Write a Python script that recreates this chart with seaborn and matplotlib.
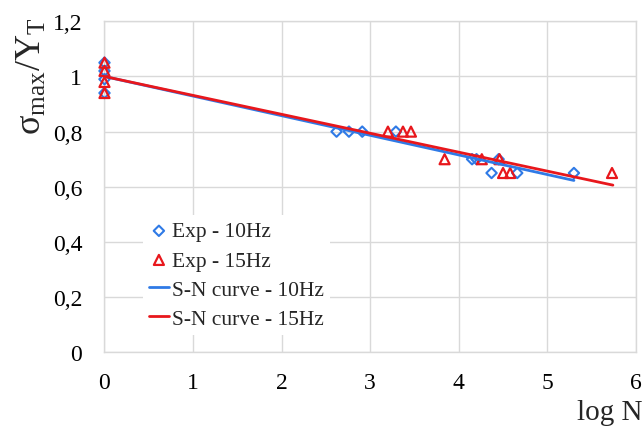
import matplotlib
matplotlib.use("Agg")
import matplotlib.pyplot as plt
import seaborn as sns

# Experimental fatigue points (log N, sigma_max / Y_T)
exp10_logn = [0, 0, 0, 0, 2.62, 2.76, 2.91, 3.29, 4.15, 4.20, 4.45, 4.37, 4.66, 5.30]
exp10_ratio = [1.05, 1.02, 0.99, 0.94, 0.80, 0.80, 0.80, 0.80, 0.70, 0.70, 0.70, 0.65, 0.65, 0.65]

exp15_logn = [0, 0, 0, 0, 3.20, 3.37, 3.46, 3.84, 4.26, 4.46, 4.50, 4.58, 5.73]
exp15_ratio = [1.05, 1.02, 0.98, 0.94, 0.80, 0.80, 0.80, 0.70, 0.70, 0.70, 0.65, 0.65, 0.65]

# Fitted S-N curves (end points of the straight lines)
sn10_logn = [0, 5.30]
sn10_ratio = [1.0, 0.623]
sn15_logn = [0, 5.74]
sn15_ratio = [1.0, 0.606]

series_labels = ["Exp - 10Hz", "Exp - 15Hz", "S-N curve - 10Hz", "S-N curve - 15Hz"]

x_ticks = [0, 1, 2, 3, 4, 5, 6]
y_ticks = [0, 0.2, 0.4, 0.6, 0.8, 1.0, 1.2]
y_tick_labels = ["0", "0,2", "0,4", "0,6", "0,8", "1", "1,2"]

BLUE = "#2f7ae6"
RED = "#e8171c"

sns.set_theme(style="whitegrid")
plt.rcParams["font.family"] = ["Liberation Serif", "DejaVu Serif"]
plt.rcParams["mathtext.fontset"] = "custom"
plt.rcParams["mathtext.rm"] = "Liberation Serif"
plt.rcParams["mathtext.it"] = "Liberation Serif:italic"

fig = plt.figure(figsize=(6.43, 4.27), dpi=100)
ax = fig.add_axes([0.1625, 0.1726, 0.8265, 0.7752])

sns.scatterplot(x=exp10_logn, y=exp10_ratio, ax=ax, marker="D", s=28,
                color=BLUE, facecolor="none", edgecolor=BLUE, linewidth=1.5,
                clip_on=False, zorder=3)
sc10 = ax.collections[-1]
sns.scatterplot(x=exp15_logn, y=exp15_ratio, ax=ax, marker="^", s=52,
                color=RED, facecolor="none", edgecolor=RED, linewidth=1.6,
                clip_on=False, zorder=3)
sc15 = ax.collections[-1]
sns.lineplot(x=sn10_logn, y=sn10_ratio, ax=ax, color=BLUE, linewidth=2.0, zorder=4)
ln10 = ax.lines[-1]
sns.lineplot(x=sn15_logn, y=sn15_ratio, ax=ax, color=RED, linewidth=2.0, zorder=4)
ln15 = ax.lines[-1]

ax.set_xlim(0, 6)
ax.set_ylim(0, 1.2)
ax.set_xticks(x_ticks)
ax.set_xticklabels([str(t) for t in x_ticks])
ax.set_yticks(y_ticks)
ax.set_yticklabels(y_tick_labels)
ax.tick_params(axis="both", length=0, labelsize=17, colors="black")
ax.tick_params(axis="x", pad=14)
ax.tick_params(axis="y", pad=16)
ax.grid(True, color="#d9d9d9", linewidth=1.0)
for sp in ax.spines.values():
    sp.set_color("#d9d9d9")
    sp.set_linewidth(1.0)

ax.set_ylabel(r"$\mathrm{\sigma_{max}/Y_{T}}$", fontsize=26, loc="top")
ax.yaxis.set_label_coords(-0.104, 1.014)
ax.set_xlabel("log N", fontsize=21, loc="right")
ax.xaxis.set_label_coords(1.012, -0.14)

leg = ax.legend([sc10, sc15, ln10, ln15], series_labels,
                loc="upper left", bbox_to_anchor=(0.072, 0.415), borderaxespad=0,
                fontsize=15.5, frameon=True, framealpha=1, facecolor="white",
                edgecolor="none", handlelength=0.9, handletextpad=0.15,
                labelspacing=0.42, borderpad=0.3, fancybox=False)

fig.savefig("out.png", dpi=100, facecolor="white")
